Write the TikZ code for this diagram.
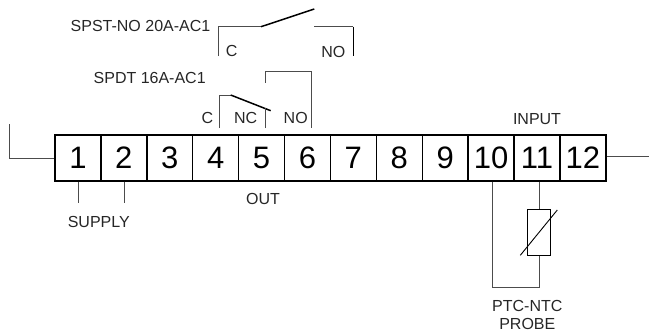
\documentclass[tikz,border=0pt]{standalone}
\usepackage{fontspec}
\setmainfont{Liberation Sans}
\definecolor{thin}{gray}{0.3}
\tikzset{
  terminal/.style={draw=black,line width=1.4pt,minimum width=45.9pt,minimum height=45.7pt,inner sep=0pt,font=\fontsize{31}{34}\selectfont,text=black},
  lbl/.style={inner sep=0pt,font=\fontsize{16}{18}\selectfont,text=black!85},
  wire/.style={draw=thin,line width=1pt},
  blackwire/.style={draw=black,line width=0.9pt},
  blade/.style={draw=black,line width=1.5pt},
  resistor/.style={draw=black,line width=0.9pt,minimum width=23.4pt,minimum height=45.7pt,inner sep=0pt}
}
\begin{document}
\begin{tikzpicture}[x=1pt,y=-1pt]
\useasboundingbox (0,0) rectangle (649,333);
\foreach \i in {1,...,12}{
  \node[terminal] (t\i) at ({55+45.9*(\i-0.5)},158) {\i};
}
% outer stubs
\coordinate (la) at (9.3,124);
\coordinate (lb) at (9.3,158);
\coordinate (ra) at (649,156);
\draw[wire] (la) -- (lb) -- (t1.west);
\draw[wire] (t12.east |- ra) -- (ra);
% supply
\coordinate (s1) at (78.7,203);
\coordinate (s2) at (124.2,203);
\draw[wire] (t1.south -| s1) -- (s1);
\draw[wire] (t2.south -| s2) -- (s2);
\node[lbl] (supply) at (98.8,221.7) {SUPPLY};
\node[lbl] (out) at (263,199) {OUT};
\node[lbl] (input) at (537,118.7) {INPUT};
% probe
\node[resistor] (r) at (539,232.2) {};
\coordinate (pa) at (492.7,287);
\coordinate (pb) at (539,287);
\draw[wire] (t10.south -| pa) -- (pa) -- (pb) -- (r.south);
\draw[wire] (t11.south -| r.north) -- (r.north);
\coordinate (sa) at (520.3,255.3);
\coordinate (sb) at (557.3,210);
\draw[blackwire] (sa) -- (sb);
\node[lbl] (ptc) at (527.3,305.7) {PTC-NTC};
\node[lbl] (probe) at (527.3,324) {PROBE};
% SPST
\node[lbl] (spst) at (140.5,25.7) {SPST-NO 20A-AC1};
\coordinate (a1) at (218.7,56);
\coordinate (a2) at (218.7,26.7);
\coordinate (a3) at (261,26.7);
\coordinate (a4) at (314.3,9);
\coordinate (a5) at (314.3,26.7);
\coordinate (a6) at (353.3,26.7);
\coordinate (a7) at (353.3,56);
\draw[wire] (a1) -- (a2) -- (a3);
\draw[blade] (a3) -- (a4);
\draw[wire] (a5) -- (a6);
\draw[blackwire] (a6) -- (a7);
\node[lbl] (c1) at (231.7,50.5) {C};
\node[lbl] (no1) at (333.3,51.7) {NO};
% SPDT
\node[lbl] (spdt) at (149.7,77.7) {SPDT 16A-AC1};
\coordinate (b1) at (219.5,128);
\coordinate (b2) at (219.5,95);
\coordinate (b3) at (230.7,95);
\coordinate (b4) at (270.7,110.7);
\coordinate (b5) at (265.3,128);
\coordinate (b6) at (265.3,108.3);
\coordinate (b7) at (265.3,82.7);
\coordinate (b8) at (265.3,71.7);
\coordinate (b9) at (311.3,71.7);
\coordinate (b10) at (311.3,128);
\draw[wire] (b1) -- (b2) -- (b3);
\draw[blade] (b3) -- (b4);
\draw[wire] (b5) -- (b6);
\draw[wire] (b7) -- (b8) -- (b9) -- (b10);
\node[lbl] (c2) at (207.3,118.3) {C};
\node[lbl] (nc) at (245.7,117.7) {NC};
\node[lbl] (no2) at (295.7,118.3) {NO};
\end{tikzpicture}
\end{document}
